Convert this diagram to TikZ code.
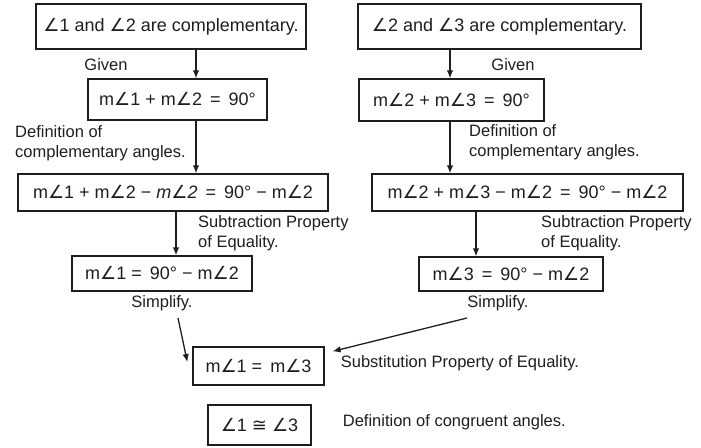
\documentclass[tikz,border=0pt]{standalone}
\usepackage{fontspec}
\setmainfont{Liberation Sans}
\newfontfamily\symfont{DejaVu Sans}
\usepackage{xcolor}
\definecolor{cLine}{HTML}{1E1E1E}
\definecolor{cText}{HTML}{1E1E1E}
\usetikzlibrary{positioning,arrows.meta}
\newcommand{\ang}{{\symfont ∠}}
\newcommand{\congr}{{\symfont ≅}}
\tikzset{
  node-box/.style={draw=cLine,line width=1.3pt,inner sep=0pt,align=center,
    text=cText,font=\fontsize{18}{21}\selectfont},
  node-label/.style={inner sep=0pt,align=left,text=cText,
    font=\fontsize{16.5}{20}\selectfont},
  arrow/.style={-{Latex[length=8pt,width=6.5pt]},line width=1.3pt,draw=cLine},
}

\begin{document}
\begin{tikzpicture}[x=1pt,y=-1pt]
  \useasboundingbox (0,0) rectangle (701,447);
  % left column
  \node[node-box,minimum width=270pt,minimum height=45pt] (l1) at (171,26.5) {\ang1 and \ang2 are complementary.};
  \node[node-box,minimum width=179pt,minimum height=41pt] (l2) at (177.5,99.5) {m\ang1 + m\ang2 \,=\, 90°};
  \node[node-box,minimum width=310pt,minimum height=37pt] (l3) at (173,192.5) {m\ang1 + m\ang2 − \textit{m\ang2} \,=\, 90° − m\ang2};
  \node[node-box,minimum width=180pt,minimum height=35pt] (l4) at (162,273.5) {m\ang1 = \,90° − m\ang2};
  % right column
  \node[node-box,minimum width=283pt,minimum height=45pt] (r1) at (499.5,26.5) {\ang2 and \ang3 are complementary.};
  \node[node-box,minimum width=185pt,minimum height=42pt] (r2) at (451.5,100) {m\ang2 + m\ang3 \,=\, 90°};
  \node[node-box,minimum width=311pt,minimum height=37pt] (r3) at (527.5,192.5) {m\ang2 + m\ang3 − m\ang2 \,=\, 90° − m\ang2};
  \node[node-box,minimum width=184pt,minimum height=34pt] (r4) at (511,274) {m\ang3 \,=\, 90° − m\ang2};
  % bottom
  \node[node-box,minimum width=131pt,minimum height=38pt] (b1) at (258.5,366) {m\ang1 = \,m\ang3};
  \node[node-box,minimum width=103pt,minimum height=40pt] (b2) at (259.5,425) {\ang1 \congr\ \ang3};

  % reasons
  \node[node-label] (givenL) at (106,65) {Given};
  \node[node-label] (givenR) at (513,65) {Given};
  \node[node-label,anchor=west] (defL) at (15,143) {Definition of\\complementary angles.};
  \node[node-label,anchor=west] (defR) at (469,142.5) {Definition of\\complementary angles.};
  \node[node-label,anchor=west] (subL) at (198,233) {Subtraction Property\\of Equality.};
  \node[node-label,anchor=west] (subR) at (541,233) {Subtraction Property\\of Equality.};
  \node[node-label,below=4pt of l4] (simpL) {Simplify.};
  \node[node-label,below=4pt of r4,xshift=-13pt] (simpR) {Simplify.};
  \node[node-label,right=16pt of b1,yshift=3pt] (substit) {Substitution Property of Equality.};
  \node[node-label,right=31pt of b2,yshift=3pt] (defcong) {Definition of congruent angles.};

  % arrows
  \coordinate (axL) at (196,0);
  \coordinate (axL3) at (176,0);
  \coordinate (axR) at (450,0);
  \coordinate (axR3) at (476,0);
  \coordinate (startL) at (178,318);
  \coordinate (startR) at (467,318);
  \draw[arrow] (l1.south -| axL) -- (l2.north -| axL);
  \draw[arrow] (l2.south -| axL) -- (l3.north -| axL);
  \draw[arrow] (l3.south -| axL3) -- (l4.north -| axL3);
  \draw[arrow] (r1.south -| axR) -- (r2.north -| axR);
  \draw[arrow] (r2.south -| axR) -- (r3.north -| axR);
  \draw[arrow] (r3.south -| axR3) -- (r4.north -| axR3);
  \draw[arrow] (startL) -- ([shift={(-5,-4)}]b1.west);
  \draw[arrow] (startR) -- ([shift={(8,5)}]b1.north east);
\end{tikzpicture}
\end{document}
